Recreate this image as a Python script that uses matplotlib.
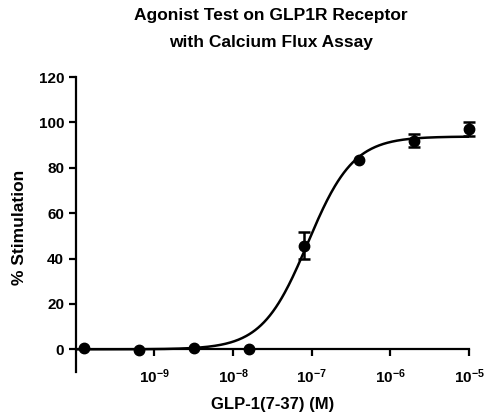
import numpy as np
import matplotlib
matplotlib.use("Agg")
import matplotlib.pyplot as plt
from matplotlib.ticker import FixedLocator, FuncFormatter, NullLocator

plt.rcParams['font.family'] = ['Liberation Sans', 'DejaVu Sans']
plt.rcParams['mathtext.fontset'] = 'custom'
plt.rcParams['mathtext.rm'] = 'Liberation Sans'
plt.rcParams['mathtext.bf'] = 'Liberation Sans:bold'

# concentrations (M) and response
conc = [1.28e-10, 6.4e-10, 3.2e-9, 1.6e-8, 8e-8, 4e-7, 2e-6, 1e-5]
stim = [0.8, -0.3, 0.5, 0.0, 45.7, 83.5, 92.0, 97.1]
err = [0.0, 0.0, 0.0, 0.0, 6.0, 0.0, 2.8, 3.3]

# fitted four-parameter logistic
bottom, top = 0.0, 93.8
log_ec50 = -7.05
hill = 1.5

fig = plt.figure(figsize=(4.86, 4.12), dpi=100)
ax = fig.add_axes([0.156, 0.097, 0.809, 0.716])

xf = np.logspace(-10, -5, 400)
yf = bottom + (top - bottom) / (1 + 10 ** ((log_ec50 - np.log10(xf)) * hill))
ax.plot(xf, yf, color='black', lw=1.8, zorder=2)

ax.errorbar(conc, stim, fmt='o', color='black', ms=7.5, zorder=3, clip_on=False)
# only draw bars where the error sticks out of the marker
show = [e > 0 for e in err]
eb = ax.errorbar(np.array(conc)[show], np.array(stim)[show], yerr=np.array(err)[show],
                 fmt='none', ecolor='black', elinewidth=1.8, capsize=4.5, capthick=1.8,
                 zorder=3)
for a in eb.get_children():
    a.set_clip_on(False)

ax.set_xscale('log')
ax.set_xlim(1e-10, 1e-5)
ax.set_ylim(-10, 120)

ax.spines['top'].set_visible(False)
ax.spines['right'].set_visible(False)
ax.spines['bottom'].set_position(('data', 0))
for s in ['left', 'bottom']:
    ax.spines[s].set_linewidth(1.6)

ax.xaxis.set_major_locator(FixedLocator([1e-9, 1e-8, 1e-7, 1e-6, 1e-5]))
ax.xaxis.set_minor_locator(NullLocator())
ax.xaxis.set_major_formatter(FuncFormatter(
    lambda v, p: r'$\mathbf{10^{-%d}}$' % abs(round(np.log10(v)))))
ax.set_yticks(np.arange(0, 121, 20))

ax.tick_params(axis='both', width=1.6, length=5, labelsize=11)
ax.tick_params(axis='x', pad=8)
for lab in ax.get_yticklabels():
    lab.set_fontweight('bold')

ax.set_xlabel('GLP-1(7-37) (M)', fontsize=12, fontweight='bold')
ax.set_ylabel('% Stimulation', fontsize=12.5, fontweight='bold')
ax.xaxis.set_label_coords(0.5, -0.085)
ax.yaxis.set_label_coords(-0.125, 0.49)

fig.text(0.558, 0.962, 'Agonist Test on GLP1R Receptor', ha='center', va='center',
         fontsize=12.5, fontweight='bold')
fig.text(0.558, 0.898, 'with Calcium Flux Assay', ha='center', va='center',
         fontsize=12.5, fontweight='bold')

fig.savefig('out.png', dpi=100)
